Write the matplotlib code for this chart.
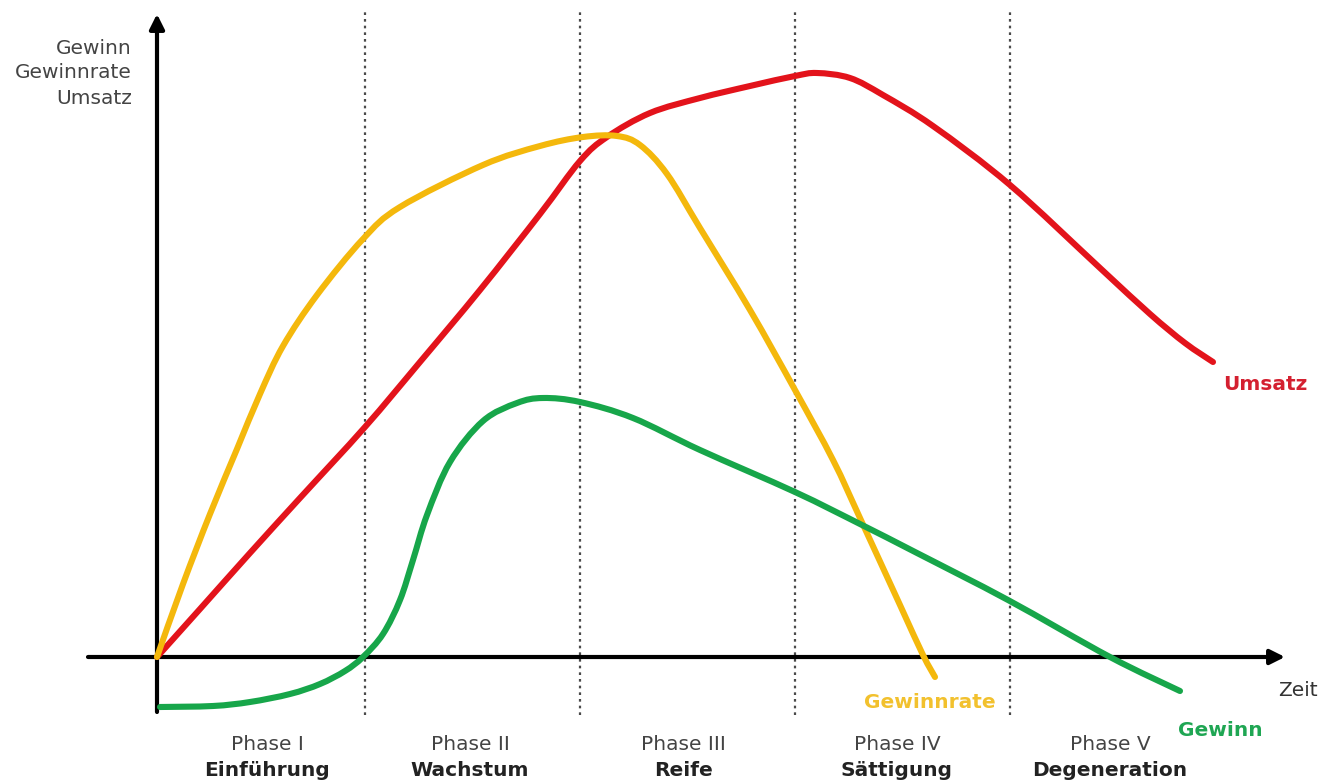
import numpy as np
import matplotlib
matplotlib.use("Agg")
import matplotlib.pyplot as plt
from matplotlib.path import Path
from matplotlib.patches import PathPatch

# Produktlebenszyklus - values (time units, value units)
umsatz_t = [0, 43, 93, 143, 208, 263, 323, 383, 423, 450, 493, 543, 593, 638, 660, 693,
            726, 776, 853, 943, 993, 1028, 1056]
umsatz_v = [0, 48, 104, 159, 230, 295, 367, 443, 496, 520, 544, 559, 571, 581, 584, 579,
            562, 531, 472, 389, 343, 314, 295]

gewinnrate_t = [0, 26, 53, 80, 103, 126, 160, 206, 243, 326, 383, 426, 460, 483, 510, 543,
                593, 638, 676, 703, 743, 766, 778]
gewinnrate_v = [0, 73, 143, 208, 263, 311, 362, 418, 450, 492, 511, 520, 521, 512, 483, 429,
                347, 267, 197, 139, 52, 2, -20]

gewinn_t = [3, 56, 93, 133, 163, 188, 206, 226, 243, 256, 270, 293, 326, 360, 386, 423,
            476, 543, 638, 703, 760, 851, 953, 1023]
gewinn_v = [-50, -49, -45, -37, -27, -14, 0, 23, 57, 97, 142, 195, 236, 254, 259, 255,
            239, 207, 165, 133, 104, 57, 0, -34]

phase_bounds = [208, 423, 638, 853]
phase_pos = [110, 313, 526, 740, 953]
phase_nums = ["Phase I", "Phase II", "Phase III", "Phase IV", "Phase V"]
phase_names = ["Einführung", "Wachstum", "Reife", "Sättigung", "Degeneration"]
y_labels = ["Gewinn", "Gewinnrate", "Umsatz"]

RED = "#e3131b"
YELLOW = "#f4b80c"
GREEN = "#17a64a"


def smooth_curve(ax, xs, ys, color):
    # Catmull-Rom control points turned into cubic Bezier path segments
    p = np.column_stack([xs, ys]).astype(float)
    p = np.vstack([p[0], p, p[-1]])
    verts = [p[1]]
    codes = [Path.MOVETO]
    for i in range(1, len(p) - 2):
        c1 = p[i] + (p[i + 1] - p[i - 1]) / 6
        c2 = p[i + 1] - (p[i + 2] - p[i]) / 6
        verts += [c1, c2, p[i + 1]]
        codes += [Path.CURVE4] * 3
    patch = PathPatch(Path(verts, codes), facecolor="none", edgecolor=color, lw=4.4,
                      capstyle="round", joinstyle="round", zorder=3)
    ax.add_patch(patch)


fig = plt.figure(figsize=(13.2, 7.82), dpi=100)
ax = fig.add_axes([0, 0, 1, 1])
ax.set_xlim(-157, 1163)
ax.set_ylim(-125, 657)
ax.axis("off")

# phase separators
for b in phase_bounds:
    ax.plot([b, b], [-58, 647], color="#4a4a4a", lw=1.6, linestyle=(0, (1.2, 1.8)), zorder=1)

# axes with arrows
ax.annotate("", xy=(1128, 0), xytext=(-69, 0),
            arrowprops=dict(arrowstyle="-|>", lw=3, color="black", mutation_scale=22,
                            shrinkA=0, shrinkB=0), zorder=2)
ax.annotate("", xy=(0, 643), xytext=(0, -55),
            arrowprops=dict(arrowstyle="-|>", lw=3, color="black", mutation_scale=22,
                            shrinkA=0, shrinkB=0), zorder=2)

# curves
smooth_curve(ax, umsatz_t, umsatz_v, RED)
smooth_curve(ax, gewinnrate_t, gewinnrate_v, YELLOW)
smooth_curve(ax, gewinn_t, gewinn_v, GREEN)

fs = 14.5
# y axis title
for i, lab in enumerate(y_labels):
    ax.text(-25, 609 - 25 * i, lab, ha="right", va="center", fontsize=fs, color="#444444")

ax.text(1141, -33, "Zeit", ha="center", va="center", fontsize=fs, color="#333333")

# curve labels
ax.text(1108, 272, "Umsatz", ha="center", va="center", fontsize=fs, fontweight="bold", color="#d42030")
ax.text(773, -45, "Gewinnrate", ha="center", va="center", fontsize=fs, fontweight="bold", color="#f2c12e")
ax.text(1063, -73, "Gewinn", ha="center", va="center", fontsize=fs, fontweight="bold", color="#1fa653")

# phase labels
for x, num, name in zip(phase_pos, phase_nums, phase_names):
    ax.text(x, -88, num, ha="center", va="center", fontsize=fs, color="#444444")
    ax.text(x, -113, name, ha="center", va="center", fontsize=fs, fontweight="bold", color="#222222")

fig.savefig("out.png", dpi=100, facecolor="white")
